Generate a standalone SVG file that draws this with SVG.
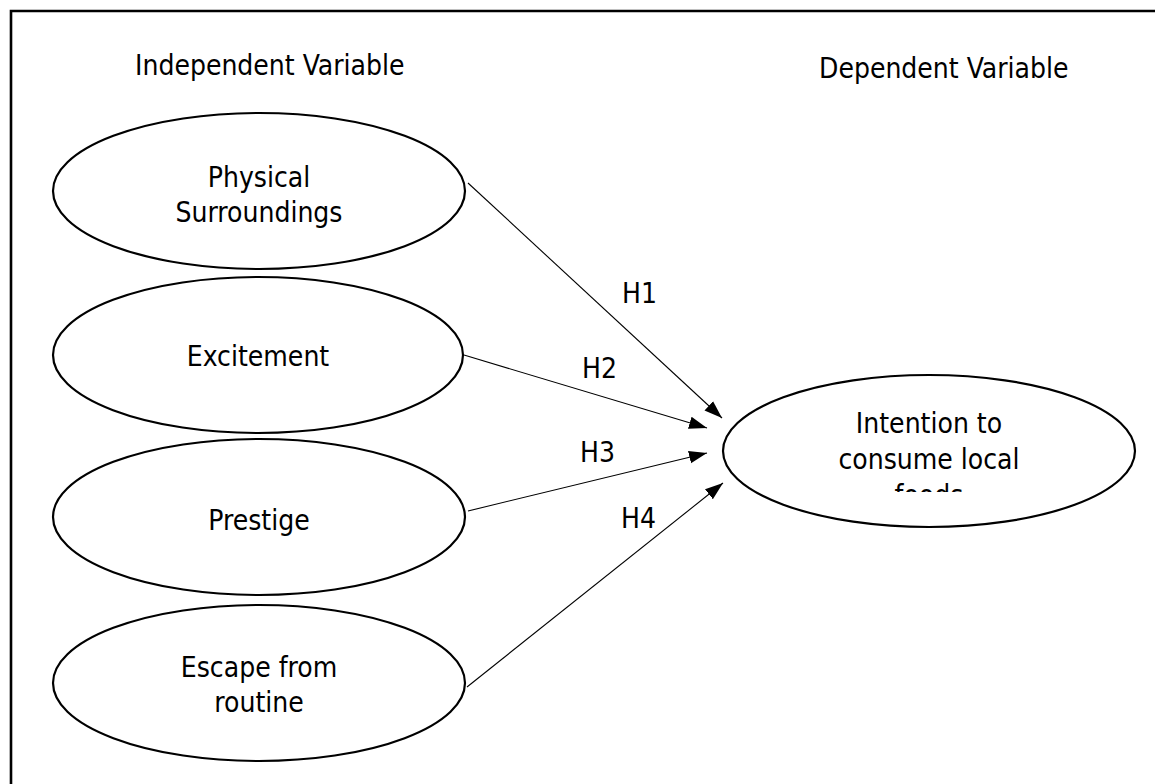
<svg xmlns="http://www.w3.org/2000/svg" width="1155" height="784" viewBox="0 0 1155 784">
<style>
.t{font-family:"DejaVu Sans Condensed","DejaVu Sans",sans-serif;font-size:28px;fill:#000}
.c{text-anchor:middle}
.e{fill:#fff;stroke:#000;stroke-width:2.2}
.l{stroke:#000;stroke-width:1.1;fill:none;marker-end:url(#arr)}
</style>
<defs>
<marker id="arr" viewBox="0 0 10 10" refX="10" refY="5" markerWidth="18" markerHeight="18" markerUnits="userSpaceOnUse" orient="auto">
<path d="M0,1.5 L10,5 L0,8.5 Z" fill="#000"/>
</marker>
<clipPath id="clipI"><rect x="700" y="370" width="455" height="122"/></clipPath>
</defs>
<rect width="1155" height="784" fill="#fff"/>
<g id="frame"><path d="M11,784 V11 H1155" fill="none" stroke="#000" stroke-width="2.6"/></g>
<text class="t" x="135" y="75">Independent Variable</text>
<text class="t" x="819" y="78">Dependent Variable</text>
<g id="n1"><ellipse class="e" cx="259" cy="191" rx="206" ry="78"/><text class="t c" x="259" y="187">Physical</text><text class="t c" x="259" y="222">Surroundings</text></g>
<g id="n2"><ellipse class="e" cx="258" cy="355" rx="205" ry="78"/><text class="t c" x="258" y="366">Excitement</text></g>
<g id="n3"><ellipse class="e" cx="259" cy="517" rx="206" ry="78"/><text class="t c" x="259" y="530">Prestige</text></g>
<g id="n4"><ellipse class="e" cx="259" cy="683" rx="206" ry="78"/><text class="t c" x="259" y="677">Escape from</text><text class="t c" x="259" y="712">routine</text></g>
<g id="n5"><ellipse class="e" cx="929" cy="451" rx="206" ry="76"/><g clip-path="url(#clipI)"><text class="t c" x="929" y="433">Intention to</text><text class="t c" x="929" y="469">consume local</text><text class="t c" x="929" y="505">foods</text></g></g>
<g id="connectors">
<line class="l" x1="468" y1="183" x2="722" y2="418"/>
<line class="l" x1="464" y1="355" x2="707" y2="428"/>
<line class="l" x1="468" y1="511" x2="707" y2="453"/>
<line class="l" x1="467" y1="687" x2="723" y2="483"/>
<text class="t" x="622" y="303">H1</text>
<text class="t" x="582" y="378">H2</text>
<text class="t" x="580" y="462">H3</text>
<text class="t" x="621" y="528">H4</text>
</g>
</svg>
